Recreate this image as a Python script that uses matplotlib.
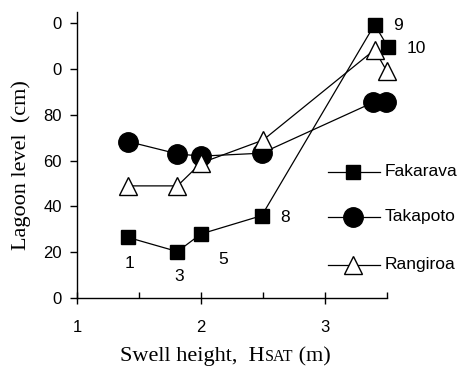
import matplotlib
matplotlib.use("Agg")
import matplotlib.pyplot as plt
from matplotlib.lines import Line2D

# Data
fak_x = [1.41, 1.81, 2.0, 2.49, 3.40, 3.51]
fak_y = [26.5, 20.3, 28.0, 36.0, 119.5, 109.5]
tak_x = [1.41, 1.81, 2.0, 2.49, 3.39, 3.49]
tak_y = [68.4, 63.0, 62.0, 63.3, 85.5, 85.5]
ran_x = [1.41, 1.81, 2.0, 2.50, 3.40, 3.50]
ran_y = [49.0, 49.0, 59.0, 69.0, 108.5, 99.0]
fak_labels = ["1", "3", "5", "8", "9", "10"]
yticks = [0, 20, 40, 60, 80, 100, 120]
ytick_labels = ["0", "20", "40", "60", "80", "0", "0"]
xticks = [1, 2, 3]
xtick_labels = ["1", "2", "3"]

W, H = 464, 369
fig = plt.figure(figsize=(W / 100, H / 100), dpi=100)
ax = fig.add_axes([77 / W, 1 - 298 / H, (387 - 77) / W, (298 - 12) / H])

lw = 0.9
ax.plot(fak_x, fak_y, color="black", lw=lw, marker="s", ms=9.5,
        mfc="black", mec="black", zorder=3, clip_on=False)
ax.plot(tak_x, tak_y, color="black", lw=lw, marker="o", ms=14,
        mfc="black", mec="black", zorder=3, clip_on=False)
ax.plot(ran_x, ran_y, color="black", lw=lw, marker="^", ms=13,
        mfc="white", mec="black", mew=1.0, zorder=4, clip_on=False)

ax.set_xlim(1, 3.5)
ax.set_ylim(0, 125)
for s in ["top", "right"]:
    ax.spines[s].set_visible(False)
for s in ["left", "bottom"]:
    ax.spines[s].set_linewidth(1.0)

ax.set_xticks(xticks)
ax.set_xticklabels(xtick_labels, fontfamily="Liberation Sans", fontsize=12)
ax.set_xticks([1.5, 2.5, 3.5], minor=True)
ax.tick_params(axis="x", which="major", direction="inout", length=8,
               width=1, pad=12)
ax.tick_params(axis="x", which="minor", direction="in", length=4, width=1)
ax.set_yticks(yticks)
ax.set_yticklabels(ytick_labels, fontfamily="Liberation Sans", fontsize=12)
ax.tick_params(axis="y", direction="out", length=5, width=1, pad=6)

# point labels
offs = {"1": (1.42, 15), "3": (1.82, 9.5), "5": (2.18, 17),
        "8": (2.68, 35), "9": (3.59, 119), "10": (3.74, 109)}
for lab in fak_labels:
    x, y = offs[lab]
    ax.text(x, y, lab, fontfamily="Liberation Sans", fontsize=12.5,
            ha="center", va="center", clip_on=False)

# legend (custom)
def leg(yp, marker, ms, mfc, label):
    x0, x1 = 328 / W, 380 / W
    yy = 1 - yp / H
    fig.add_artist(Line2D([x0, x1], [yy, yy], color="black", lw=lw,
                          transform=fig.transFigure))
    fig.add_artist(Line2D([(x0 + x1) / 2 - 0.003], [yy], marker=marker, ms=ms,
                          mfc=mfc, mec="black", lw=0,
                          transform=fig.transFigure))
    fig.text(385 / W, yy, label, fontfamily="Liberation Sans", fontsize=12.5,
             ha="left", va="center")

leg(172, "s", 9.5, "black", "Fakarava")
leg(217, "o", 14, "black", "Takapoto")
leg(265, "^", 13, "white", "Rangiroa")

# axis labels
fig.text(21 / W, 1 - 165 / H, "Lagoon level  (cm)", rotation=90,
         fontfamily="Liberation Serif", fontsize=16, ha="center", va="center")

# x label with small caps SAT
base = 1 - 361 / H
t1 = fig.text(120 / W, base, "Swell height,  H", fontfamily="Liberation Serif",
              fontsize=16, ha="left", va="baseline")
fig.canvas.draw()
r = fig.canvas.get_renderer()
bb = t1.get_window_extent(r)
t2 = fig.text(bb.x1 / W, base, "SAT", fontfamily="Liberation Serif",
              fontsize=11.5, ha="left", va="baseline")
bb2 = t2.get_window_extent(r)
fig.text(bb2.x1 / W, base, " (m)", fontfamily="Liberation Serif",
         fontsize=16, ha="left", va="baseline")

fig.savefig("out.png", dpi=100)
